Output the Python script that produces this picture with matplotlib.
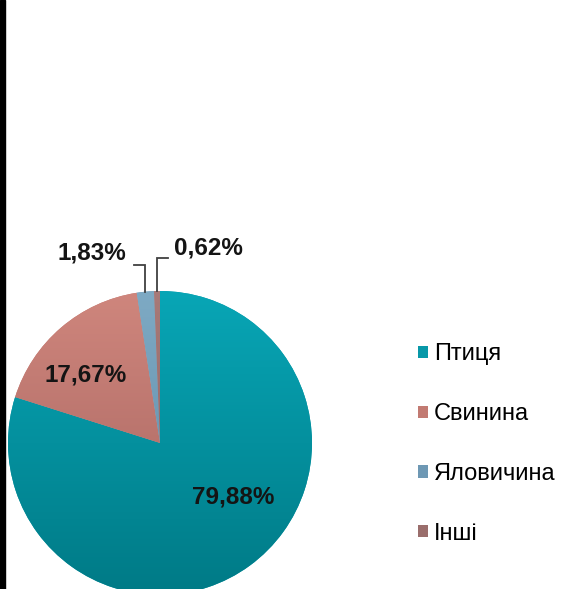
import numpy as np
import matplotlib
matplotlib.use("Agg")
import matplotlib.pyplot as plt
from matplotlib.colors import LinearSegmentedColormap
from matplotlib.patches import Patch, Rectangle

plt.rcParams['font.family'] = ['Liberation Sans', 'DejaVu Sans']

# data
categories = ["Птиця", "Свинина", "Яловичина", "Інші"]
shares = [79.88, 17.67, 1.83, 0.62]
labels = ["79,88%", "17,67%", "1,83%", "0,62%"]

# colours: light (top) and dark (bottom) of each slice gradient
top_colors = ["#08a6b6", "#cf867d", "#7eaac4", "#a87a78"]
bottom_colors = ["#007a86", "#a4625d", "#5a87a4", "#8a5c5c"]
legend_colors = ["#0898a8", "#c27a72", "#6e98b4", "#9a6e6c"]

W, H = 561, 589
fig = plt.figure(figsize=(W / 100, H / 100), dpi=100)
ax = fig.add_axes([0, 0, 1, 1])

cx, cy, r = 160, 146, 152
wedges, _ = ax.pie(shares, startangle=90, counterclock=False,
                   center=(cx, cy), radius=r, colors=legend_colors,
                   wedgeprops=dict(linewidth=0))

# vertical gradient inside each slice
grad = np.linspace(0, 1, 256).reshape(-1, 1)
for w, c1, c2 in zip(wedges, top_colors, bottom_colors):
    cmap = LinearSegmentedColormap.from_list("g", [c1, c2])
    im = ax.imshow(grad, cmap=cmap, aspect="auto",
                   extent=(cx - r, cx + r, cy - r, cy + r), origin="upper", zorder=2)
    im.set_clip_path(w)

ax.set_xlim(0, W)
ax.set_ylim(0, H)
ax.set_aspect("equal")
ax.axis("off")

# black bar on the left edge
ax.add_patch(Rectangle((0, 0), 5, H, color="black", zorder=5, clip_on=False))

lab_font = dict(fontsize=17.5, fontweight="bold", color="#141414", zorder=6)

# inner labels
ax.text(cx + 73, cy - 54, labels[0], ha="center", va="center", **lab_font)
ax.text(cx - 74, cy + 68, labels[1], ha="center", va="center", **lab_font)

# outer labels with leader lines: (label dx, label dy, elbow dy, direction)
outer = {2: (-68, 190, 178, -1), 3: (48, 195, 185, 1)}
for i, (tx, ty, ely, side) in outer.items():
    w = wedges[i]
    mid = np.deg2rad((w.theta1 + w.theta2) / 2)
    px = cx + r * np.cos(mid)
    py = cy + r * np.sin(mid)
    ey = cy + ely
    ax.plot([px, px, px + side * 11], [py, ey, ey], color="#404040", lw=1.3,
            zorder=6, solid_joinstyle="miter")
    ax.text(cx + tx, cy + ty, labels[i], ha="center", va="center", **lab_font)

handles = [Patch(facecolor=c, edgecolor="none") for c in legend_colors]
fig.legend(handles, categories, loc="center left",
           bbox_to_anchor=(418 / W, (H - 444) / H),
           frameon=False, fontsize=17, handlelength=0.42, handleheight=0.42,
           handletextpad=0.25, labelspacing=1.6, borderpad=0, borderaxespad=0)

fig.savefig("out.png", dpi=100)
